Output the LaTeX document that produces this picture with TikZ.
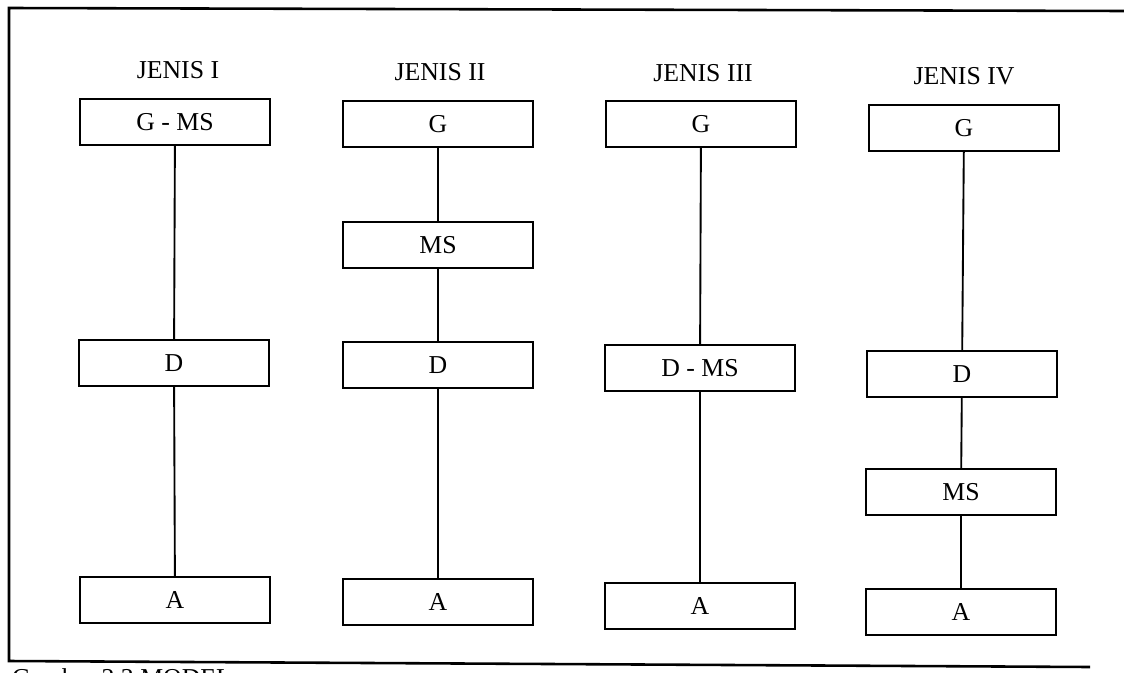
\documentclass[tikz,border=0pt]{standalone}
\usepackage{fontspec}
\setmainfont{Liberation Serif}
\begin{document}
\begin{tikzpicture}[x=0.03cm,y=-0.03cm,
  bx/.style={draw,line width=1.8pt,minimum width=5.72cm,minimum height=1.38cm,inner sep=0pt,font=\fontsize{22}{26}\selectfont},
  ttl/.style={font=\fontsize{22}{26}\selectfont},
  ln/.style={line width=1.6pt}]
\useasboundingbox (0,0) rectangle (1124,672);
\clip (0,0) rectangle (1124,672);
% frame
\coordinate (tl) at (9,8);
\coordinate (tr) at (1124,11);
\coordinate (bl) at (9,661);
\coordinate (br) at (1090,667);
\draw[line width=2.2pt] (tr) -- (tl) -- (bl) -- (br);
% titles
\node[ttl] (t1) at (178,70) {JENIS I};
\node[ttl] (t2) at (440,72) {JENIS II};
\node[ttl] (t3) at (703,73) {JENIS III};
\node[ttl] (t4) at (964,76) {JENIS IV};
% column I
\node[bx] (g1) at (175,122) {G - MS};
\node[bx] (d1) at (174,363) {D};
\node[bx] (a1) at (175,600) {A};
% column II
\node[bx] (g2) at (438,124) {G};
\node[bx] (m2) at (438,245) {MS};
\node[bx] (d2) at (438,365) {D};
\node[bx] (a2) at (438,602) {A};
% column III
\node[bx] (g3) at (701,124) {G};
\node[bx] (d3) at (700,368) {D - MS};
\node[bx] (a3) at (700,606) {A};
% column IV
\node[bx] (g4) at (964,128) {G};
\node[bx] (d4) at (962,374) {D};
\node[bx] (m4) at (961,492) {MS};
\node[bx] (a4) at (961,612) {A};
% connectors
\draw[ln] (g1) -- (d1);
\draw[ln] (d1) -- (a1);
\draw[ln] (g2) -- (m2);
\draw[ln] (m2) -- (d2);
\draw[ln] (d2) -- (a2);
\draw[ln] (g3) -- (d3);
\draw[ln] (d3) -- (a3);
\draw[ln] (g4) -- (d4);
\draw[ln] (d4) -- (m4);
\draw[ln] (m4) -- (a4);
% caption (cut off at the bottom edge, as in the scan)
\node[ttl,anchor=base west] (cap) at (8,686) {Gambar 2.3 MODEL};
\end{tikzpicture}
\end{document}
